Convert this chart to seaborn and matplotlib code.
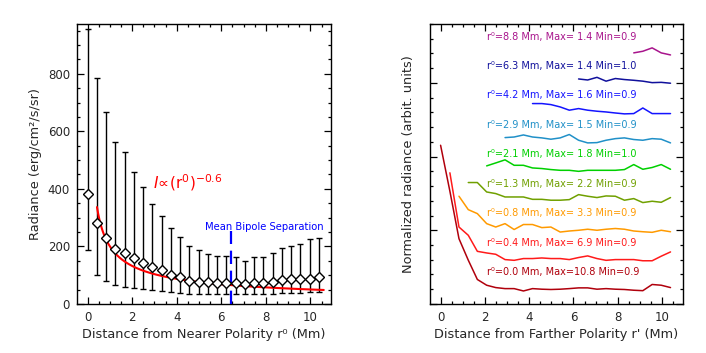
import numpy as np
import pandas as pd
import matplotlib
matplotlib.use("Agg")
import matplotlib.pyplot as plt
from matplotlib.ticker import MultipleLocator, NullFormatter
import seaborn as sns

# ---------------- data ----------------
# distance grid (Mm)
r_grid = [0.0, 0.42, 0.83, 1.25, 1.66, 2.08, 2.49, 2.91, 3.32, 3.74, 4.15, 4.57, 4.98,
          5.40, 5.81, 6.23, 6.64, 7.06, 7.47, 7.89, 8.30, 8.72, 9.13, 9.55, 9.96, 10.38]

# left panel: mean radiance and error bar extents (erg/cm^2/s/sr)
radiance_mean = [381, 281, 229, 191, 177, 158, 143, 127, 118, 99, 92, 81, 77,
                 75, 74, 74, 73, 69, 72, 74, 75, 84, 86, 87, 88, 95]
radiance_upper = [954, 786, 668, 563, 527, 459, 405, 348, 306, 264, 234, 200, 188,
                  173, 168, 165, 164, 150, 164, 162, 177, 193, 200, 209, 224, 228]
radiance_lower = [186, 99, 79, 65, 59, 55, 52, 47, 45, 40, 38, 35, 34,
                  34, 34, 34, 34, 35, 34, 35, 36, 38, 38, 39, 40, 41]

# power-law fit  I ∝ (r0)^-0.6
fit_amplitude = 200.0
fit_index = -0.6
fit_r_start, fit_r_end = 0.42, 10.6

mean_bipole_sep = 6.45

# right panel: normalized radiance profiles vs r' for several r0
profile_r0 = [0.0, 0.4, 0.8, 1.3, 2.1, 2.9, 4.2, 6.3, 8.8]
profile_max = [10.8, 6.9, 3.3, 2.2, 1.8, 1.5, 1.6, 1.4, 1.4]
profile_min = [0.9, 0.9, 0.9, 0.9, 1.0, 0.9, 0.9, 1.0, 0.9]
profile_start = [0, 1, 2, 3, 5, 7, 10, 15, 21]   # index into r_grid where profile begins

prof_00 = [10.77, 7.65, 4.43, 2.97, 1.66, 1.27, 1.11, 1.04, 1.04, 0.88, 1.04, 1.00, 0.98,
           1.00, 1.04, 1.09, 1.09, 1.00, 1.04, 1.00, 0.98, 0.93, 0.90, 1.32, 1.27, 1.11]
prof_04 = [6.90, 3.22, 2.66, 1.57, 1.46, 1.37, 1.01, 0.96, 1.08, 1.08, 1.12, 1.08,
           1.08, 1.01, 1.15, 1.26, 1.08, 0.96, 1.01, 1.01, 1.01, 0.93, 0.93, 1.24, 1.53]
prof_08 = [3.31, 2.40, 2.13, 1.45, 1.22, 1.45, 1.05, 1.39, 1.39, 1.18, 1.22, 0.88,
           0.95, 1.00, 1.07, 1.00, 1.07, 1.12, 1.07, 0.95, 0.90, 0.86, 1.00, 0.90]
prof_13 = [2.24, 2.24, 1.60, 1.49, 1.26, 1.26, 1.26, 1.10, 1.10, 1.04, 1.04, 1.08,
           1.42, 1.31, 1.22, 1.33, 1.31, 1.04, 1.15, 0.88, 0.97, 0.90, 1.22]
prof_21 = [1.37, 1.57, 1.78, 1.41, 1.41, 1.23, 1.19, 1.12, 1.07, 1.07, 1.00,
           1.07, 1.07, 1.07, 1.07, 1.12, 1.46, 1.14, 1.26, 1.46, 1.14]
prof_29 = [1.29, 1.33, 1.47, 1.33, 1.27, 1.18, 1.27, 1.50, 1.11, 0.93, 0.95,
           1.11, 1.22, 1.27, 1.16, 1.11, 1.22, 1.18, 0.93]
prof_42 = [1.60, 1.60, 1.53, 1.37, 1.15, 1.26, 1.15, 1.08, 1.03, 0.96, 0.90,
           0.92, 1.30, 0.92, 0.92, 0.92]
prof_63 = [1.27, 1.20, 1.38, 1.12, 1.30, 1.23, 1.18, 1.12, 1.02, 1.04, 0.98]
prof_88 = [1.04, 1.15, 1.38, 1.04, 0.90]
profiles = [prof_00, prof_04, prof_08, prof_13, prof_21, prof_29, prof_42, prof_63, prof_88]

profile_colors = ['#B0000C', '#FF1A1A', '#FF9A00', '#70A000', '#00D000',
                  '#2090C8', '#1414FF', '#10109C', '#A8148C']
offset_step = 0.4
norm_scale = 0.2

# ---------------- figure ----------------
sns.set_style("ticks")
plt.rcParams['font.family'] = ['DejaVu Sans']

fig = plt.figure(figsize=(7.06, 3.53), dpi=100)
axL = fig.add_axes([0.109, 0.139, 0.360, 0.793])
axR = fig.add_axes([0.609, 0.139, 0.358, 0.793])

# ---- left panel ----
r = np.array(r_grid)
m = np.array(radiance_mean)
yerr = np.vstack([m - np.array(radiance_lower), np.array(radiance_upper) - m])
axL.errorbar(r, m, yerr=yerr, fmt='none', ecolor='black', elinewidth=1.0,
             capsize=2.2, capthick=1.0, zorder=2)

r_fit = np.linspace(fit_r_start, fit_r_end, 200)
fit_df = pd.DataFrame({'r': r_fit, 'I': fit_amplitude * r_fit ** fit_index})
sns.lineplot(data=fit_df, x='r', y='I', ax=axL, color='#FF0000', lw=1.5, zorder=3)

pts = pd.DataFrame({'r': r, 'I': m})
axL.plot(pts['r'], pts['I'], ls='none', marker='D', ms=4.9, mfc='white',
         mec='black', mew=1.0, zorder=4)

axL.plot([mean_bipole_sep, mean_bipole_sep], [0, 252], color='#0000FF', lw=1.6,
         ls=(0, (6, 3)), zorder=3)
axL.text(5.25, 266, 'Mean Bipole Separation', color='#0000FF', fontsize=7.2,
         va='center', ha='left')
axL.text(2.95, 420, r'$I\!\propto\!\left(\mathrm{r}^{0}\right)^{-0.6}$', color='#FF0000',
         fontsize=11, va='center', ha='left')

axL.set_xlim(-0.48, 10.93)
axL.set_ylim(0, 973)
axL.xaxis.set_major_locator(MultipleLocator(2))
axL.xaxis.set_minor_locator(MultipleLocator(0.5))
axL.yaxis.set_major_locator(MultipleLocator(200))
axL.yaxis.set_minor_locator(MultipleLocator(50))
axL.set_xlabel('Distance from Nearer Polarity r⁰ (Mm)', fontsize=9.3, labelpad=3)
axL.set_ylabel('Radiance (erg/cm²/s/sr)', fontsize=9.3, labelpad=4)

# ---- right panel ----
for k, (prof, start, c) in enumerate(zip(profiles, profile_start, profile_colors)):
    xs = r_grid[start:start + len(prof)]
    ys = [offset_step * k + norm_scale * v for v in prof]
    df = pd.DataFrame({'r': xs, 'y': ys})
    sns.lineplot(data=df, x='r', y='y', ax=axR, color=c, lw=1.1)
    label = f"r⁰={profile_r0[k]:.1f} Mm, Max={profile_max[k]:4.1f} Min={profile_min[k]:.1f}"
    axR.text(2.1, offset_step * k + 0.43, label, color=c, fontsize=7,
             va='center', ha='left')

axR.set_xlim(-0.48, 10.93)
axR.set_ylim(0, 3.8)
axR.xaxis.set_major_locator(MultipleLocator(2))
axR.xaxis.set_minor_locator(MultipleLocator(0.5))
axR.yaxis.set_major_locator(MultipleLocator(1))
axR.yaxis.set_minor_locator(MultipleLocator(0.2))
axR.yaxis.set_major_formatter(NullFormatter())
axR.set_xlabel("Distance from Farther Polarity r' (Mm)", fontsize=9.3, labelpad=3)
axR.set_ylabel('Normalized radiance (arbit. units)', fontsize=9.3, labelpad=6)

for ax in (axL, axR):
    ax.tick_params(which='both', direction='in', top=True, right=True,
                   labelsize=8.5, width=0.9, color='black')
    ax.tick_params(which='major', length=5, pad=5)
    ax.tick_params(which='minor', length=2.5)
    for s in ax.spines.values():
        s.set_linewidth(1.0)
        s.set_color('black')
    ax.set_facecolor('white')

fig.savefig('out.png', dpi=100, facecolor='white')
